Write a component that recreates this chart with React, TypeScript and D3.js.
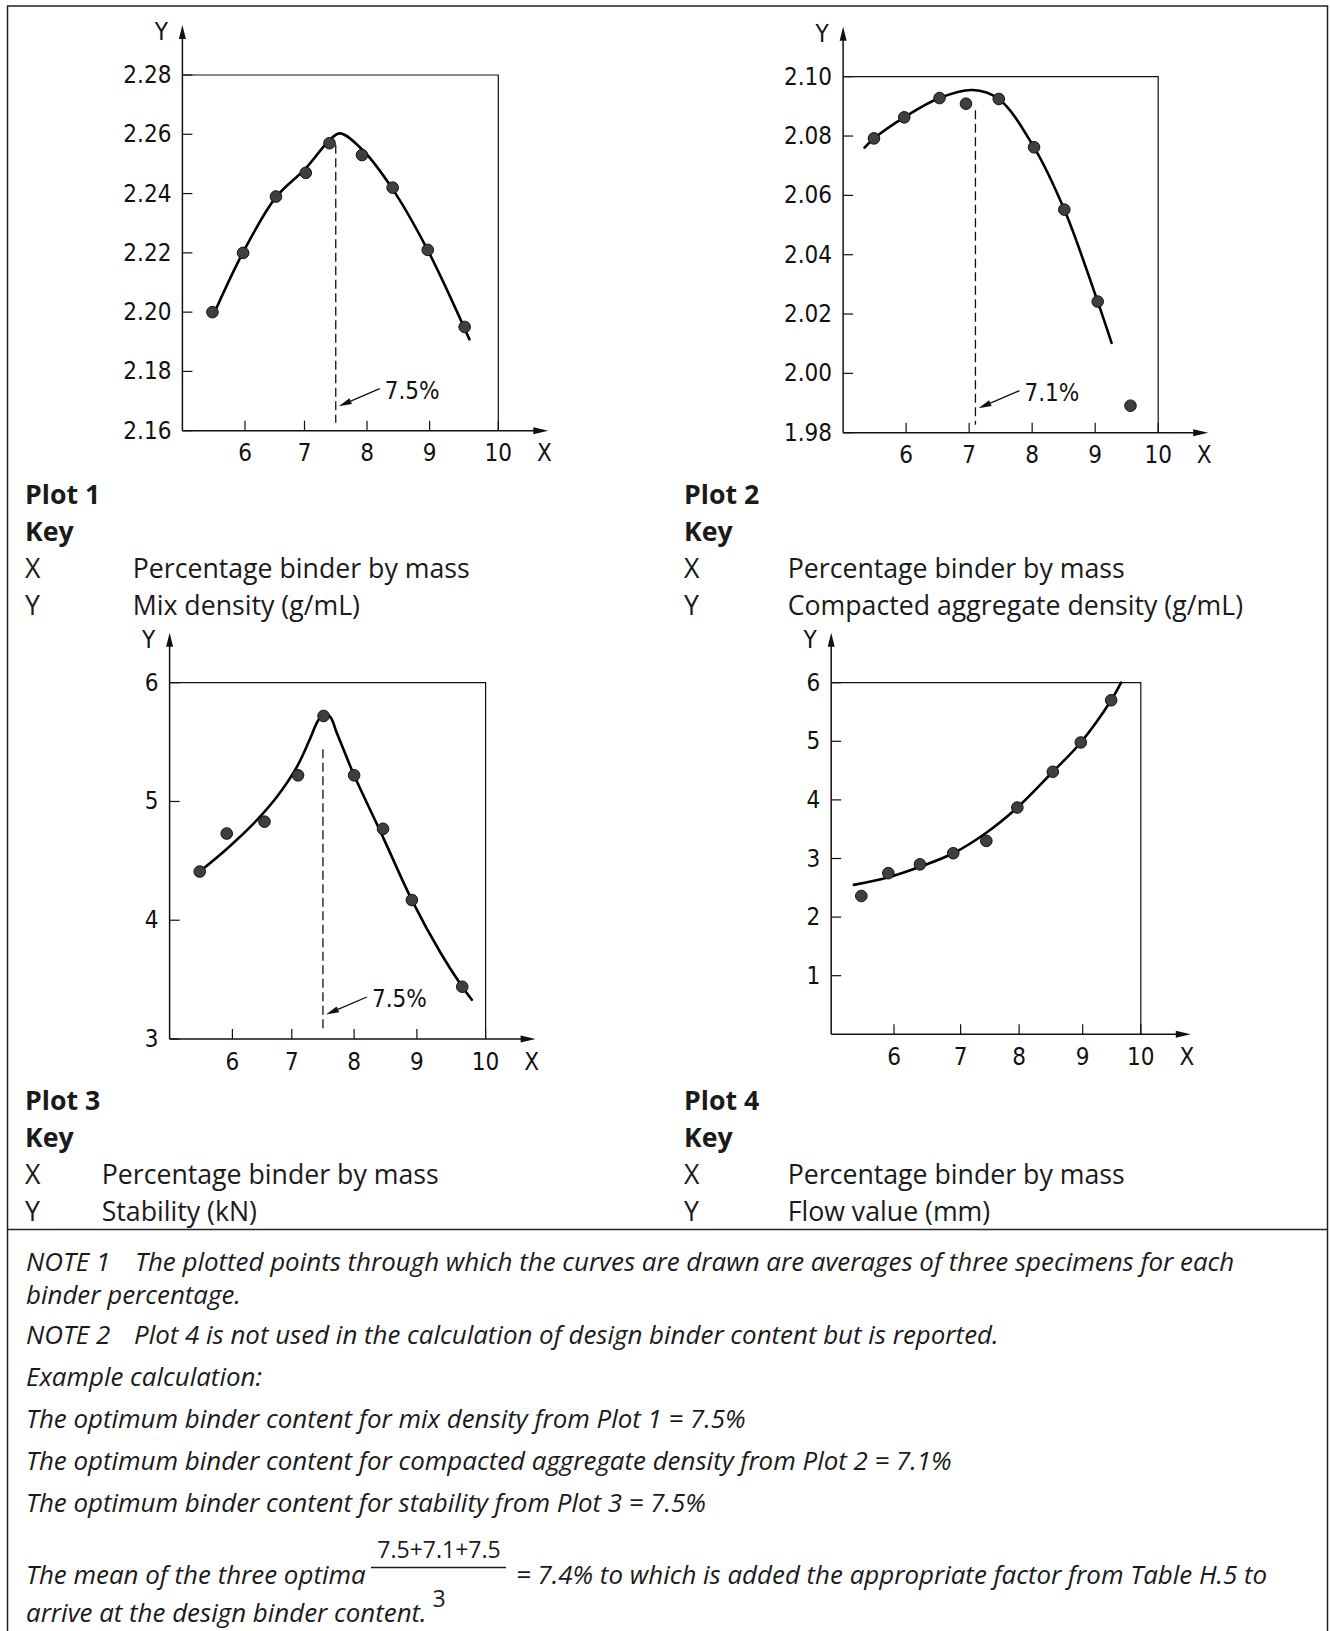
import React from 'react';
import * as d3 from 'd3';

// ---------- data ----------
const xTicks = [6, 7, 8, 9, 10];
const xStopValues = [5, 6, 7, 8, 9, 10];

// Plot 1 – Mix density
const p1Ticks = [2.16, 2.18, 2.2, 2.22, 2.24, 2.26, 2.28];
const p1X = [5.48, 5.97, 6.52, 7.02, 7.4, 7.92, 8.41, 8.97, 9.51];
const p1Y = [2.2, 2.22, 2.239, 2.247, 2.257, 2.253, 2.242, 2.221, 2.195];
const c1X = [5.53, 5.97, 6.52, 7.02, 7.4, 7.57, 7.93, 8.41, 8.97, 9.58];
const c1Y = [2.2007, 2.2202, 2.2388, 2.2485, 2.258, 2.2603, 2.2547, 2.2415, 2.2209, 2.1908];

// Plot 2 – Compacted aggregate density
const p2Ticks = [1.98, 2.0, 2.02, 2.04, 2.06, 2.08, 2.1];
const p2X = [5.49, 5.97, 6.53, 6.95, 7.47, 8.03, 8.51, 9.04, 9.56];
const p2Y = [2.0792, 2.0863, 2.0928, 2.0909, 2.0925, 2.0762, 2.0552, 2.0242, 1.9891];
const c2X = [5.34, 5.49, 5.97, 6.53, 7.05, 7.47, 8.03, 8.51, 9.04, 9.26];
const c2Y = [2.0761, 2.0792, 2.0863, 2.0928, 2.0955, 2.0925, 2.0762, 2.0552, 2.0242, 2.0103];

// Plot 3 – Stability
const p3Ticks = [3, 4, 5, 6];
const p3X = [5.48, 5.91, 6.54, 7.1, 7.51, 8.0, 8.46, 8.92, 9.66];
const p3Y = [4.41, 4.73, 4.83, 5.22, 5.72, 5.22, 4.77, 4.17, 3.44];
const c3X = [5.48, 5.91, 6.33, 6.75, 7.07, 7.27, 7.42, 7.52, 7.62, 7.72, 7.86, 8.0, 8.46, 8.92, 9.35, 9.66, 9.8];
const c3Y = [4.41, 4.6, 4.8, 5.04, 5.28, 5.5, 5.68, 5.74, 5.71, 5.58, 5.4, 5.22, 4.7, 4.17, 3.72, 3.44, 3.33];

// Plot 4 – Flow value
const p4Ticks = [1, 2, 3, 4, 5, 6];
const p4X = [5.48, 5.91, 6.39, 6.89, 7.44, 7.97, 8.53, 8.97, 9.49];
const p4Y = [2.36, 2.75, 2.9, 3.09, 3.3, 3.87, 4.48, 4.98, 5.7];
const c4X = [5.36, 5.91, 6.39, 6.89, 7.44, 7.97, 8.53, 8.97, 9.49, 9.66];
const c4Y = [2.55, 2.68, 2.86, 3.09, 3.44, 3.87, 4.48, 4.98, 5.7, 6.0];

const optima = [7.5, 7.1, 7.5];

// ---------- styles ----------
const ISO = "'DejaVu Sans Condensed', 'DejaVu Sans', sans-serif";
const SANS = "'Open Sans', 'Noto Sans', sans-serif";
const INK = '#111';

type Frame = { left: number; right: number; top: number; bottom: number; xStops?: number[] };

interface PlotProps {
  frame: Frame;
  yDomain: [number, number];
  yTicks: number[];
  yFmt: (v: number) => string;
  px: number[];
  py: number[];
  cx: number[];
  cy: number[];
  optimum?: number;
  dashTop?: number;
  label?: string;
}

function Plot({ frame, yDomain, yTicks, yFmt, px, py, cx, cy, optimum, dashTop, label }: PlotProps) {
  // hand-drawn axis: the tick spacing is slightly uneven, so map each tick to its drawn position
  const x = frame.xStops
    ? d3.scaleLinear().domain(xStopValues).range(frame.xStops)
    : d3.scaleLinear().domain([5, 10]).range([frame.left, frame.right]);
  const y = d3.scaleLinear().domain(yDomain).range([frame.bottom, frame.top]);
  const line = d3
    .line<number>()
    .x((d) => x(d))
    .y((_, i) => y(cy[i]))
    .curve(d3.curveCatmullRom.alpha(0.5));
  const yTip = frame.top - 50;
  const xTip = frame.right + 50;
  const L = frame.left;
  const B = frame.bottom;

  let annot = null;
  if (optimum !== undefined && dashTop !== undefined) {
    const dx = x(optimum);
    const ex = dx + 3, ey = B - 24.5;
    const sx = dx + 44, sy = B - 42;
    const ang = Math.atan2(ey - sy, ex - sx);
    const hl = 13, hw = 3.2;
    const bx = ex - hl * Math.cos(ang), by = ey - hl * Math.sin(ang);
    const nx = -Math.sin(ang) * hw, ny = Math.cos(ang) * hw;
    annot = (
      <g>
        <line x1={dx} x2={dx} y1={y(dashTop)} y2={B - 8} stroke={INK} strokeWidth={1.3} strokeDasharray="9 4.5" />
        <line x1={sx} y1={sy} x2={bx} y2={by} stroke={INK} strokeWidth={1.3} />
        <path d={`M${ex},${ey}L${bx + nx},${by + ny}L${bx - nx},${by - ny}Z`} fill={INK} />
        <text x={dx + 49} y={B - 40} fontFamily={ISO} fontSize={24} dominantBaseline="central" fill={INK}>
          {label}
        </text>
      </g>
    );
  }

  return (
    <g>
      {/* box */}
      <path d={`M${L},${frame.top}H${frame.right}V${B}`} fill="none" stroke={INK} strokeWidth={1.2} />
      {/* axes */}
      <line x1={L} y1={B} x2={L} y2={yTip + 10} stroke={INK} strokeWidth={1.5} />
      <path d={`M${L},${yTip}L${L + 3.5},${yTip + 14}L${L - 3.5},${yTip + 14}Z`} fill={INK} />
      <line x1={L} y1={B} x2={xTip - 10} y2={B} stroke={INK} strokeWidth={1.5} />
      <path d={`M${xTip},${B}L${xTip - 15},${B - 3.5}L${xTip - 15},${B + 3.5}Z`} fill={INK} />
      <text x={L - 21} y={frame.top - 43} fontFamily={ISO} fontSize={24} textAnchor="middle" dominantBaseline="central" fill={INK}>Y</text>
      <text x={frame.right + 46} y={B + 22.5} fontFamily={ISO} fontSize={24} textAnchor="middle" dominantBaseline="central" fill={INK}>X</text>
      {/* y ticks */}
      {yTicks.map((t) => (
        <g key={'y' + t}>
          <line x1={L} x2={L + 10} y1={y(t)} y2={y(t)} stroke={INK} strokeWidth={1.2} />
          <text x={L - 11} y={y(t)} fontFamily={ISO} fontSize={24} textAnchor="end" dominantBaseline="central" fill={INK}>
            {yFmt(t)}
          </text>
        </g>
      ))}
      {/* x ticks */}
      {xTicks.map((t) => (
        <g key={'x' + t}>
          <line x1={x(t)} x2={x(t)} y1={B} y2={B - 10} stroke={INK} strokeWidth={1.2} />
          <text x={x(t)} y={B + 22.5} fontFamily={ISO} fontSize={24} textAnchor="middle" dominantBaseline="central" fill={INK}>
            {t}
          </text>
        </g>
      ))}
      {annot}
      {/* curve */}
      <path d={line(cx) || ''} fill="none" stroke="#000" strokeWidth={2.6} strokeLinecap="round" />
      {/* points */}
      {px.map((v, i) => (
        <circle key={'p' + i} cx={x(v)} cy={y(py[i])} r={5.8} fill="#3f3f3f" stroke="#111" strokeWidth={1} />
      ))}
    </g>
  );
}

function KeyBlock({ x0, xDesc, base, title, xText, yText }: { x0: number; xDesc: number; base: number; title: string; xText: string; yText: string }) {
  const pitch = 37;
  return (
    <g fontFamily={SANS} fontSize={26.7} fill="#1a1a1a">
      <text x={x0} y={base} fontWeight="bold">{title}</text>
      <text x={x0} y={base + pitch} fontWeight="bold">Key</text>
      <text x={x0} y={base + pitch * 2}>X</text>
      <text x={xDesc} y={base + pitch * 2}>{xText}</text>
      <text x={x0} y={base + pitch * 3}>Y</text>
      <text x={xDesc} y={base + pitch * 3}>{yText}</text>
    </g>
  );
}

export default function App() {
  const f2 = (v: number) => v.toFixed(2);
  const f0 = (v: number) => String(v);
  const mean = d3.mean(optima) as number;
  const W = 1330, H = 1631;
  return (
    <svg width={W} height={H} style={{ position: 'absolute', left: 0, top: 0, background: '#fff' }}>
      <rect x={0} y={0} width={W} height={H} fill="#fff" />
      {/* frame */}
      <path d={`M7.5,${H}V6H1327.5V${H}`} fill="none" stroke="#222" strokeWidth={1.5} />
      <line x1={7.5} x2={1327.5} y1={1229.5} y2={1229.5} stroke="#222" strokeWidth={1.5} />

      <Plot frame={{ left: 182.4, right: 498.3, top: 75, bottom: 430.7, xStops: [182.4, 245, 304.5, 367, 429.6, 498.3] }}
        yDomain={[2.16, 2.28]} yTicks={p1Ticks} yFmt={f2}
        px={p1X} py={p1Y} cx={c1X} cy={c1Y} optimum={optima[0]} dashTop={2.2565} label="7.5%" />
      <Plot frame={{ left: 843.1, right: 1158.2, top: 76.7, bottom: 432.7 }} yDomain={[1.98, 2.1]} yTicks={p2Ticks} yFmt={f2}
        px={p2X} py={p2Y} cx={c2X} cy={c2Y} optimum={optima[1]} dashTop={2.0887} label="7.1%" />
      <Plot frame={{ left: 169.6, right: 485.6, top: 682.7, bottom: 1039, xStops: [169.6, 232.4, 291.8, 354.1, 416.9, 485.6] }}
        yDomain={[3, 6]} yTicks={p3Ticks} yFmt={f0}
        px={p3X} py={p3Y} cx={c3X} cy={c3Y} optimum={optima[2]} dashTop={5.44} label="7.5%" />
      <Plot frame={{ left: 831.2, right: 1140.8, top: 682.7, bottom: 1034.3, xStops: [831.2, 894, 960.6, 1019.1, 1082.7, 1140.8] }}
        yDomain={[0, 6]} yTicks={p4Ticks} yFmt={f0}
        px={p4X} py={p4Y} cx={c4X} cy={c4Y} />

      <KeyBlock x0={25} xDesc={132.7} base={504} title="Plot 1" xText="Percentage binder by mass" yText="Mix density (g/mL)" />
      <KeyBlock x0={684} xDesc={787.7} base={504} title="Plot 2" xText="Percentage binder by mass" yText="Compacted aggregate density (g/mL)" />
      <KeyBlock x0={25} xDesc={101.7} base={1110} title="Plot 3" xText="Percentage binder by mass" yText="Stability (kN)" />
      <KeyBlock x0={684} xDesc={787.7} base={1110} title="Plot 4" xText="Percentage binder by mass" yText="Flow value (mm)" />

      <g fontFamily={SANS} fontSize={25.9} fontStyle="italic" fill="#1a1a1a">
        <text x={26} y={1271}>NOTE 1</text>
        <text x={135} y={1271}>The plotted points through which the curves are drawn are averages of three specimens for each</text>
        <text x={26} y={1304}>binder percentage.</text>
        <text x={26} y={1344}>NOTE 2</text>
        <text x={134} y={1344}>Plot 4 is not used in the calculation of design binder content but is reported.</text>
        <text x={26} y={1386}>Example calculation:</text>
        <text x={26} y={1428}>{`The optimum binder content for mix density from Plot 1 = ${optima[0]}%`}</text>
        <text x={26} y={1470}>{`The optimum binder content for compacted aggregate density from Plot 2 = ${optima[1]}%`}</text>
        <text x={26} y={1512}>{`The optimum binder content for stability from Plot 3 = ${optima[2]}%`}</text>
        <text x={26} y={1584}>The mean of the three optima</text>
        <text x={516} y={1584}>{`= ${mean.toFixed(1)}% to which is added the appropriate factor from Table H.5 to`}</text>
        <text x={26} y={1622}>arrive at the design binder content.</text>
      </g>
      <g fontFamily={SANS} fontSize={23} fill="#1a1a1a" textAnchor="middle">
        <text x={439} y={1558}>{optima.join('+')}</text>
        <text x={439} y={1607}>3</text>
      </g>
      <line x1={371} x2={506} y1={1567.5} y2={1567.5} stroke="#1a1a1a" strokeWidth={1.3} />
    </svg>
  );
}
